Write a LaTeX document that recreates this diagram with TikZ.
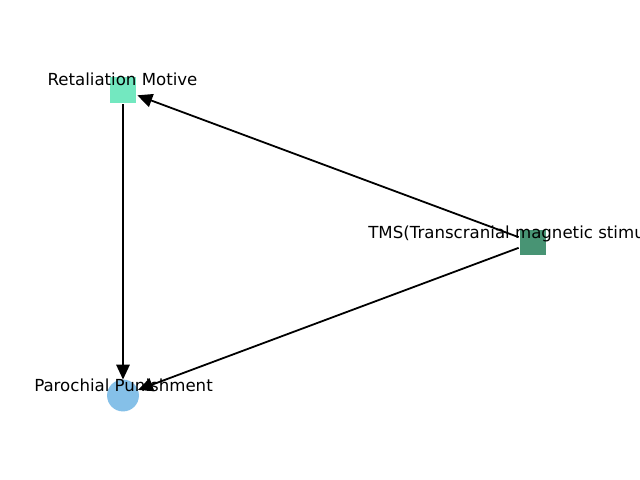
\documentclass[tikz,border=0pt]{standalone}
\usepackage{fontspec}
\setmainfont{DejaVu Sans}
\usetikzlibrary{arrows.meta}
\definecolor{retc}{HTML}{73E8C0}
\definecolor{tmsc}{HTML}{489474}
\definecolor{parc}{HTML}{85C0E8}
\tikzset{
  sq/.style={rectangle, minimum size=26*0.72pt, inner sep=0pt, outer sep=1pt, fill=#1},
  circ/.style={circle, minimum size=32*0.72pt, inner sep=0pt, outer sep=0pt, fill=#1},
  lab/.style={anchor=base, inner sep=0pt, font=\fontsize{12pt}{14pt}\selectfont},
  edge/.style={line width=1.3pt, -{Triangle[length=15*0.72pt, width=13.5*0.72pt]}}
}
\begin{document}
\begin{tikzpicture}[x=0.01in, y=-0.01in]
\useasboundingbox (0,0) rectangle (640,480);
\clip (0,0) rectangle (640,480);
\fill[white] (0,0) rectangle (640,480);
\node[sq=retc] (ret) at (123,90) {};
\node[sq=tmsc] (tms) at (533,242.5) {};
\node[circ=parc] (par) at (123,395.5) {};
\draw[edge] (ret) -- (par);
\draw[edge] (tms) -- (ret);
\draw[edge] (tms) -- (par);
\node[lab] (retl) at (122.5,86) {Retaliation Motive};
\node[lab, anchor=base west] (tmsl) at (368,238.5) {TMS(Transcranial magnetic stimulation)};
\node[lab] (parl) at (123.5,391.5) {Parochial Punishment};
\end{tikzpicture}
\end{document}
